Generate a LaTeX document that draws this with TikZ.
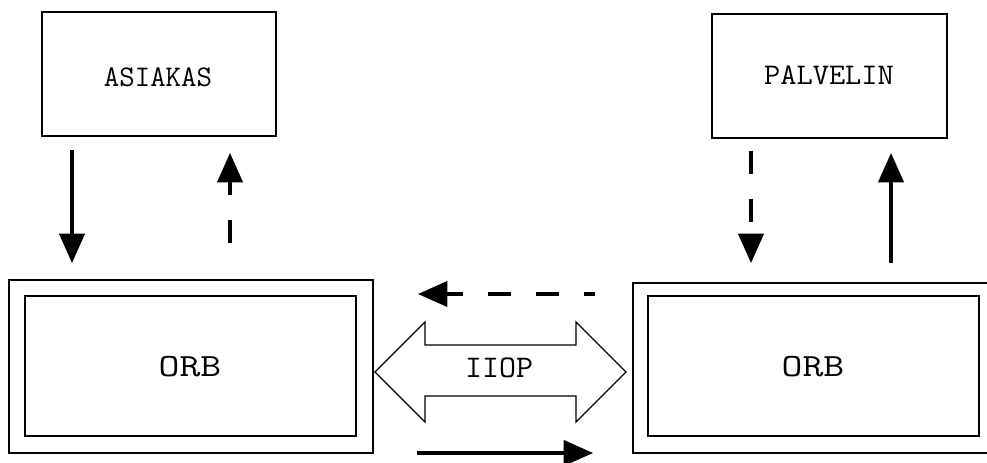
\documentclass[tikz,border=0pt]{standalone}
\usetikzlibrary{arrows.meta}
\begin{document}
\begin{tikzpicture}[x=0.75pt,y=-0.75pt,
  box/.style={draw,line width=1.2pt,inner sep=0pt,anchor=north west},
  lbl/.style={font=\ttfamily\fontsize{22.5}{23}\selectfont,inner sep=0pt},
  flow/.style={line width=2.3pt,-{Triangle[length=22pt,width=19pt]}},
  dflow/.style={flow,dash pattern=on 17.5pt off 18.5pt}]
\useasboundingbox (0,0) rectangle (987,463);
\fill[white] (0,0) rectangle (987,463);

% client and server boxes
\node[box,minimum width=175.5pt,minimum height=93pt] (asiakas) at (41,11) {};
\node[lbl] (asiakasT) at (158,77) {ASIAKAS};
\node[box,minimum width=176.25pt,minimum height=93pt] (palvelin) at (711,13) {};
\node[lbl] (palvelinT) at (829,75) {\scalebox{1.05}[1]{PALVELIN}};

% ORB frames (outer and inner)
\node[box,minimum width=273pt,minimum height=129.75pt] (orbL) at (8,279) {};
\node[box,minimum width=248.25pt,minimum height=105pt] (orbLi) at (24,295) {};
\node[lbl] (orbLT) at (190,367) {\scalebox{1.35}[1.08]{ORB}};
\node[box,minimum width=267pt,minimum height=127.5pt] (orbR) at (632,282) {};
\node[box,minimum width=248.25pt,minimum height=105pt] (orbRi) at (647,295) {};
\node[lbl] (orbRT) at (813,367) {\scalebox{1.35}[1.08]{ORB}};

% IIOP double arrow
\draw[line width=0.9pt] (375,372) -- (425,322) -- (425,345) -- (576,345)
  -- (576,322) -- (626,372) -- (576,422) -- (576,396) -- (425,396)
  -- (425,422) -- cycle;
\node[lbl] (iiop) at (499,368) {\scalebox{1.1}[1.05]{IIOP}};

% end points of the vertical and horizontal flows
\coordinate (a1) at (72,150);  \coordinate (a2) at (72,263);
\coordinate (b1) at (230,243); \coordinate (b2) at (230,153);
\coordinate (c1) at (751,151); \coordinate (c2) at (751,263);
\coordinate (d1) at (891,263); \coordinate (d2) at (891,153);
\coordinate (e1) at (595,294); \coordinate (e2) at (418,294);
\coordinate (f1) at (417,453); \coordinate (f2) at (593,453);

\draw[flow] (a1) -- (a2);
\draw[dflow] (b1) -- (b2);
\draw[dflow] (c1) -- (c2);
\draw[flow] (d1) -- (d2);
\draw[dflow,dash phase=9pt] (e1) -- (e2);
\draw[flow] (f1) -- (f2);
\end{tikzpicture}
\end{document}
